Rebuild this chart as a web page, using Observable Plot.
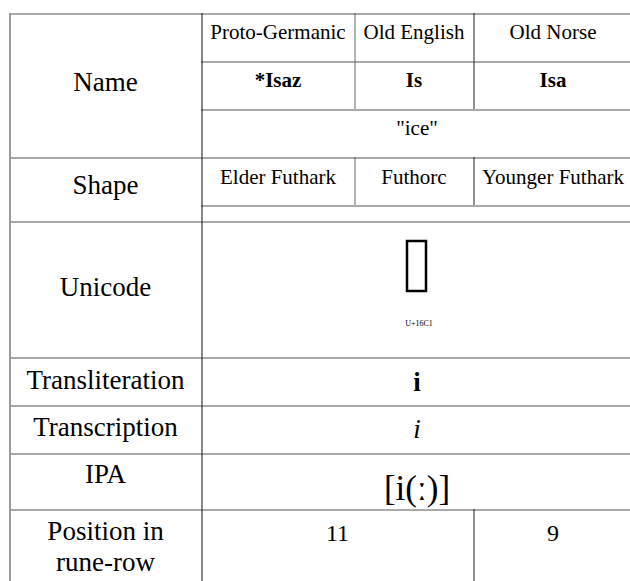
<!DOCTYPE html>
<html><head><meta charset="utf-8">
<script src="https://cdn.jsdelivr.net/npm/d3@7"></script>
<script src="https://cdn.jsdelivr.net/npm/@observablehq/plot@0.6"></script>
<style>body{margin:0;background:#fff}</style>
</head><body><div id="chart"></div>
<script>
// ---- data ----
const rowHeaders = ["Name", "Shape", "Unicode", "Transliteration", "Transcription", "IPA", "Position in\nrune-row"];
const languages = ["Proto-Germanic", "Old English", "Old Norse"];
const runeNames = ["*Isaz", "Is", "Isa"];
const meaning = "\"ice\"";
const scripts = ["Elder Futhark", "Futhorc", "Younger Futhark"];
const runeChar = "\u16C1";
const codePoint = "U+16C1";
const transliteration = "i";
const transcription = "i";
const ipa = "[i(\u02D0)]";
const positions = ["11", "9"];

// ---- layout (grid) ----
const colEdges = [9, 201, 354, 473, 632];
const rowEdges = [13, 61, 109, 157, 205, 221, 357, 405, 453, 509, 592];
const cx = (a, b) => (colEdges[a] + colEdges[b]) / 2;
const font = "Liberation Serif";

const hLines = [
  {r: 0, c0: 0, c1: 4}, {r: 1, c0: 1, c1: 4}, {r: 2, c0: 1, c1: 4}, {r: 3, c0: 0, c1: 4},
  {r: 4, c0: 1, c1: 4}, {r: 5, c0: 0, c1: 4}, {r: 6, c0: 0, c1: 4}, {r: 7, c0: 0, c1: 4},
  {r: 8, c0: 0, c1: 4}, {r: 9, c0: 0, c1: 4}
];
const vLines = [
  {c: 1, r0: 0, r1: 10, color: "#111"},
  {c: 2, r0: 0, r1: 2, color: "#666"},
  {c: 3, r0: 0, r1: 2, color: "#222"},
  {c: 2, r0: 3, r1: 4, color: "#666"},
  {c: 3, r0: 3, r1: 4, color: "#222"},
  {c: 3, r0: 9, r1: 10, color: "#222"}
];

const headerBaselines = [90, 193, 295, 388, 435, 482, 570];
const headerTexts = rowHeaders.map((t, i) => ({t, x: cx(0, 1), y: headerBaselines[i]}));
const langTexts = languages.map((t, i) => ({t, x: cx(i + 1, i + 2), y: 38}));
const scriptTexts = scripts.map((t, i) => ({t, x: cx(i + 1, i + 2), y: 183}));
const nameTexts = runeNames.map((t, i) => ({t, x: cx(i + 1, i + 2), y: 86}));
const posTexts = [{t: positions[0], x: cx(1, 3), y: 540}, {t: positions[1], x: cx(3, 4), y: 540}];

// missing-glyph box for the rune character (as rendered in the reference)
const glyphBox = [{x1: cx(1, 4) - 9.5, x2: cx(1, 4) + 9.5, y1: 241, y2: 291}];

const chart = Plot.plot({
  width: 630, height: 581, margin: 0,
  x: {type: "identity", axis: null}, y: {type: "identity", axis: null}, color: {type: "identity"},
  marks: [
    Plot.ruleY(hLines, {y: d => rowEdges[d.r] + 0.5, x1: d => colEdges[d.c0], x2: d => colEdges[d.c1], stroke: "#555", strokeWidth: 1}),
    Plot.ruleX(vLines, {x: d => colEdges[d.c] + 0.5, y1: d => rowEdges[d.r0], y2: d => rowEdges[d.r1], stroke: d => d.color, strokeWidth: 1}),
    Plot.ruleX([colEdges[0]], {x: d => d + 0.5, y1: rowEdges[0], y2: rowEdges[10], stroke: "#999", strokeWidth: 2}),
    Plot.text(headerTexts, {x: "x", y: "y", text: "t", fontSize: 27, fontFamily: font, lineAnchor: "bottom", lineHeight: 1.12, fill: "#000"}),
    Plot.text(langTexts, {x: "x", y: "y", text: "t", fontSize: 21, fontFamily: font, lineAnchor: "bottom", fill: "#000"}),
    Plot.text(scriptTexts, {x: "x", y: "y", text: "t", fontSize: 21, fontFamily: font, lineAnchor: "bottom", fill: "#000"}),
    Plot.text(nameTexts, {x: "x", y: "y", text: "t", fontSize: 21, fontWeight: "bold", fontFamily: font, lineAnchor: "bottom", fill: "#000"}),
    Plot.text([meaning], {x: cx(1, 4), y: 134, text: d => d, fontSize: 21, fontFamily: font, lineAnchor: "bottom", fill: "#000"}),
    Plot.rect(glyphBox, {x1: "x1", x2: "x2", y1: "y1", y2: "y2", fill: "none", stroke: "#000", strokeWidth: 2.5}),
    Plot.text([runeChar], {x: cx(1, 4), y: 292, text: d => d, fontSize: 56, fontFamily: font, lineAnchor: "bottom", fill: "#000", fillOpacity: 0}),
    Plot.text([codePoint], {x: cx(1, 4) + 2, y: 325, text: d => d, fontSize: 8, fontFamily: font, lineAnchor: "bottom", fill: "#000"}),
    Plot.text([transliteration], {x: cx(1, 4), y: 390, text: d => d, fontSize: 27, fontWeight: "bold", fontFamily: font, lineAnchor: "bottom", fill: "#000"}),
    Plot.text([transcription], {x: cx(1, 4), y: 437, text: d => d, fontSize: 27, fontStyle: "italic", fontFamily: font, lineAnchor: "bottom", fill: "#000"}),
    Plot.text([ipa], {x: cx(1, 4), y: 499, text: d => d, fontSize: 35, fontFamily: font, lineAnchor: "bottom", fill: "#000"}),
    Plot.text(posTexts, {x: "x", y: "y", text: "t", fontSize: 24, fontFamily: font, lineAnchor: "bottom", fill: "#000"})
  ]
});
document.getElementById("chart").append(chart);
</script></body></html>
